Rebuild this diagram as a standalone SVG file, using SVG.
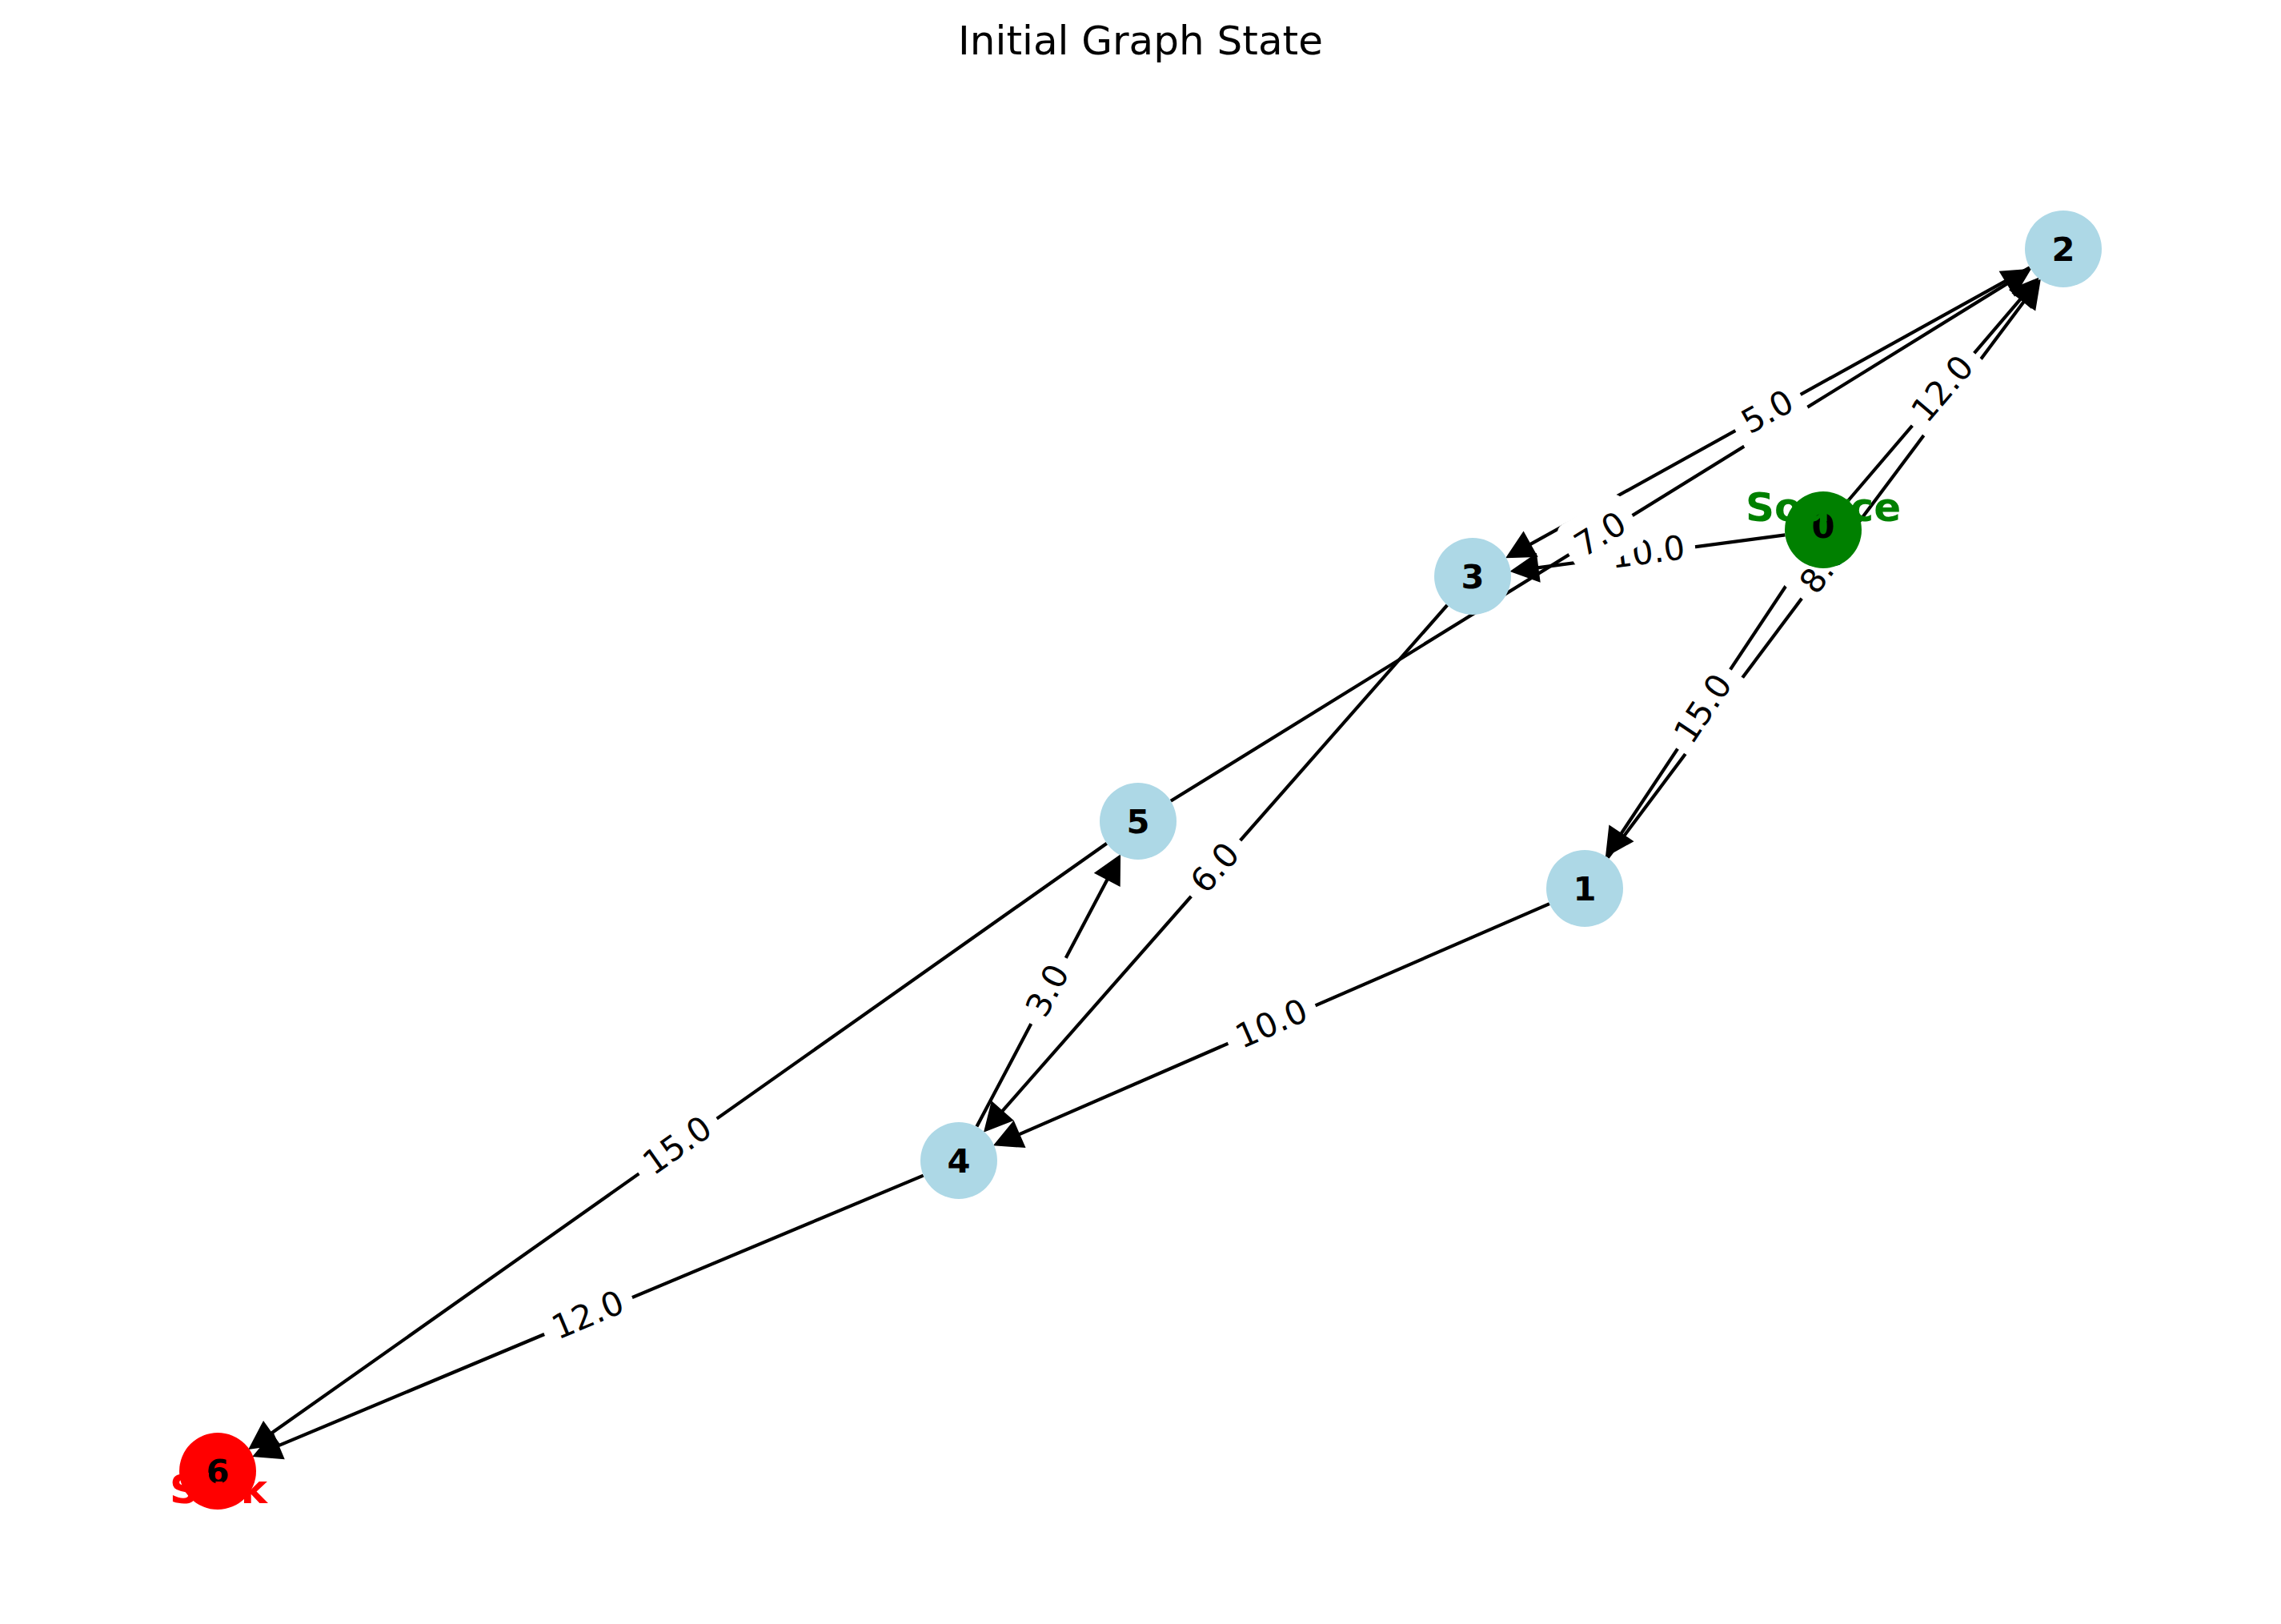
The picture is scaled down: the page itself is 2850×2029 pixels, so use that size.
<svg xmlns="http://www.w3.org/2000/svg" width="2850" height="2029" viewBox="0 0 2850 2029">
<style>
.e{stroke:#000;stroke-width:4.2;fill:none}
.ah{fill:#000;stroke:#000;stroke-width:2;stroke-linejoin:miter}
.lb rect{fill:#fff;stroke:#fff}
.lb text{font-family:"DejaVu Sans",sans-serif;font-size:41.7px;fill:#000;text-anchor:middle}
.n{fill:#ADD8E6}
.nl{font-family:"DejaVu Sans",sans-serif;font-size:41.7px;font-weight:bold;fill:#000;text-anchor:middle}
.tag{font-family:"DejaVu Sans",sans-serif;font-size:50px;font-weight:bold;text-anchor:middle}
</style>
<rect width="2850" height="2029" fill="#fff"/>
<text x="1425" y="68" font-family="DejaVu Sans, sans-serif" font-size="50" text-anchor="middle">Initial Graph State</text>
<g id="connectors">
<line class="e" x1="2251.4" y1="702.0" x2="2021.0" y2="1048.4"/>
<polygon class="ah" points="2007.1,1069.2 2011.2,1032.3 2039.6,1051.1"/>
<line class="e" x1="2008.8" y1="1071.6" x2="2533.7" y2="370.2"/>
<polygon class="ah" points="2548.6,350.2 2542.5,386.8 2515.3,366.4"/>
<line class="e" x1="2309.2" y1="625.5" x2="2529.9" y2="367.3"/>
<polygon class="ah" points="2546.2,348.2 2537.6,384.3 2511.8,362.3"/>
<line class="e" x1="2230.4" y1="668.3" x2="1913.4" y2="710.3"/>
<polygon class="ah" points="1888.6,713.6 1919.1,692.4 1923.5,726.2"/>
<line class="e" x1="2536.0" y1="334.3" x2="1904.7" y2="684.1"/>
<polygon class="ah" points="1882.9,696.2 1903.5,665.3 1920.0,695.1"/>
<line class="e" x1="1462.8" y1="1000.8" x2="2515.1" y2="349.9"/>
<polygon class="ah" points="2536.3,336.8 2517.1,368.7 2499.3,339.7"/>
<line class="e" x1="1808.3" y1="756.0" x2="1246.9" y2="1394.4"/>
<polygon class="ah" points="1230.4,1413.2 1239.4,1377.2 1264.9,1399.6"/>
<line class="e" x1="1936.0" y1="1129.1" x2="1265.9" y2="1420.5"/>
<polygon class="ah" points="1242.9,1430.5 1266.4,1401.7 1280.0,1432.9"/>
<line class="e" x1="1220.4" y1="1407.6" x2="1387.4" y2="1091.4"/>
<polygon class="ah" points="1399.1,1069.3 1398.7,1106.4 1368.7,1090.6"/>
<line class="e" x1="1382.8" y1="1053.7" x2="332.5" y2="1795.3"/>
<polygon class="ah" points="312.0,1809.7 329.2,1776.8 348.8,1804.6"/>
<line class="e" x1="1153.7" y1="1468.6" x2="340.3" y2="1809.4"/>
<polygon class="ah" points="317.2,1819.1 341.0,1790.6 354.2,1822.0"/>
</g>
<g id="edge-labels" class="lb">
<g transform="translate(2129,886) rotate(-56.37)"><rect x="-59" y="-36" width="118" height="72" rx="12"/><text y="13">15.0</text></g>
<g transform="translate(2279,710.5) rotate(-53.18)"><rect x="-46" y="-36" width="92" height="72" rx="12"/><text y="13">8.0</text></g>
<g transform="translate(2428,486.5) rotate(-49.48)"><rect x="-59" y="-36" width="118" height="72" rx="12"/><text y="13">12.0</text></g>
<g transform="translate(2059,691) rotate(-7.54)"><rect x="-59" y="-36" width="118" height="72" rx="12"/><text y="13">10.0</text></g>
<g transform="translate(2209,515.5) rotate(-29.0)"><rect x="-46" y="-36" width="92" height="72" rx="12"/><text y="13">5.0</text></g>
<g transform="translate(2000,668.5) rotate(-31.74)"><rect x="-46" y="-36" width="92" height="72" rx="12"/><text y="13">7.0</text></g>
<g transform="translate(1519,1085) rotate(-48.67)"><rect x="-46" y="-36" width="92" height="72" rx="12"/><text y="13">6.0</text></g>
<g transform="translate(1589,1280) rotate(-23.5)"><rect x="-59" y="-36" width="118" height="72" rx="12"/><text y="13">10.0</text></g>
<g transform="translate(1310,1238) rotate(-62.15)"><rect x="-46" y="-36" width="92" height="72" rx="12"/><text y="13">3.0</text></g>
<g transform="translate(847,1432) rotate(-35.22)"><rect x="-59" y="-36" width="118" height="72" rx="12"/><text y="13">15.0</text></g>
<g transform="translate(735,1644) rotate(-22.73)"><rect x="-59" y="-36" width="118" height="72" rx="12"/><text y="13">12.0</text></g>
</g>
<g id="node-0"><circle cx="2278" cy="662" r="48" fill="#008000"/><text class="nl" x="2278" y="672">0</text></g>
<g id="node-1"><circle class="n" cx="1980" cy="1110" r="48"/><text class="nl" x="1980" y="1125">1</text></g>
<g id="node-2"><circle class="n" cx="2578" cy="311" r="48"/><text class="nl" x="2578" y="326">2</text></g>
<g id="node-3"><circle class="n" cx="1840" cy="720" r="48"/><text class="nl" x="1840" y="735">3</text></g>
<g id="node-4"><circle class="n" cx="1198" cy="1450" r="48"/><text class="nl" x="1198" y="1465">4</text></g>
<g id="node-5"><circle class="n" cx="1422" cy="1026" r="48"/><text class="nl" x="1422" y="1041">5</text></g>
<g id="node-6"><circle cx="272" cy="1838" r="48" fill="#FF0000"/><text class="nl" x="272" y="1853">6</text></g>
<g id="tags">
<text class="tag" x="2278" y="651" fill="#008000">Source</text>
<text class="tag" x="273" y="1878" fill="#FF0000">Sink</text>
</g>
</svg>
